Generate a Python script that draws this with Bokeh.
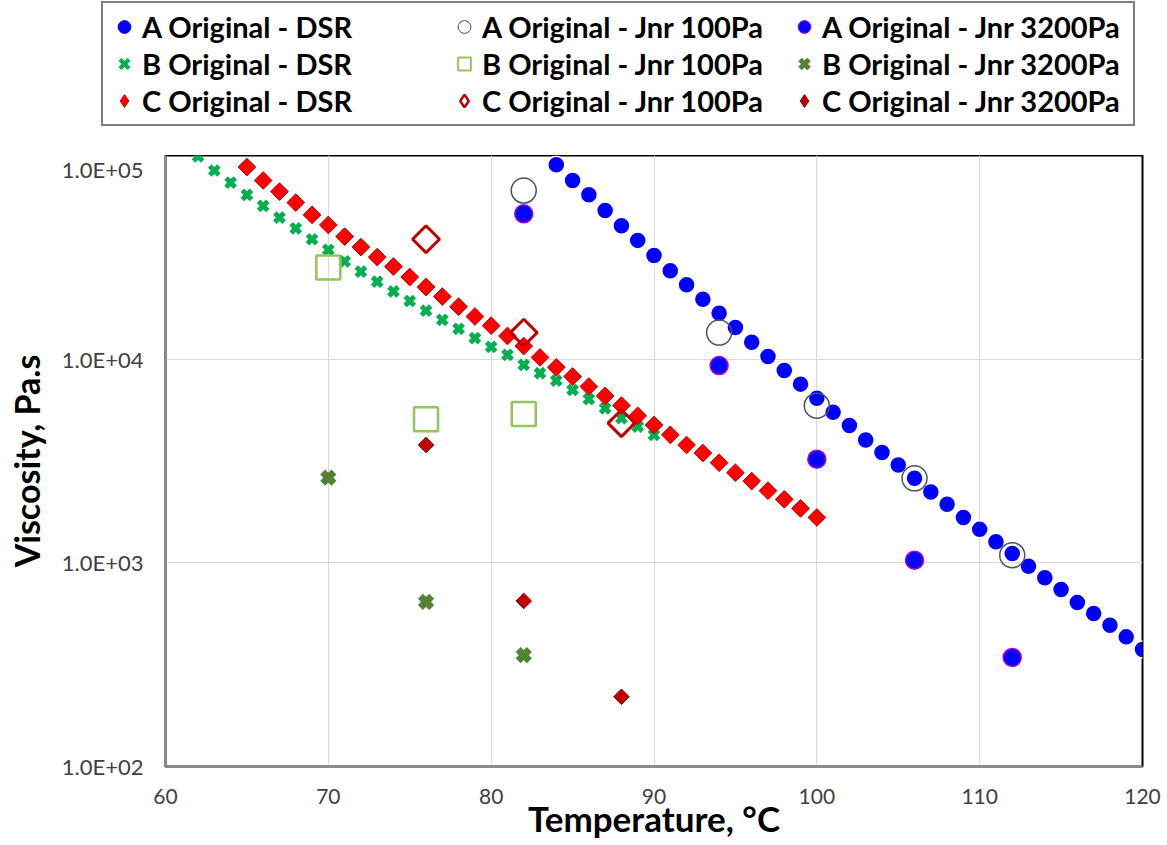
import numpy as np
from bokeh.plotting import figure
from bokeh.layouts import column
from bokeh.models import Legend, LegendItem, FixedTicker
from bokeh.embed import file_html
from bokeh.resources import INLINE

# ---------------- data ----------------
a_dsr_temp = list(range(84, 121))
a_dsr_visc = [90000, 75400, 64100, 53700, 45200, 38300, 32300, 27200, 23200, 19700,
              16800, 14300, 12100, 10300, 8800, 7540, 6430, 5490, 4720, 4010,
              3480, 3020, 2600, 2230, 1940, 1670, 1460, 1270, 1110, 963,
              844, 739, 638, 564, 494, 433, 375]

b_dsr_temp = list(range(62, 91))
b_dsr_visc = [98900, 84400, 73600, 64100, 56600, 49600, 43900, 38800, 34400, 30200,
              26900, 24000, 21500, 19300, 17300, 15600, 14100, 12700, 11500, 10500,
              9380, 8530, 7850, 7060, 6360, 5740, 5130, 4670, 4250]

c_dsr_temp = list(range(65, 101))
c_dsr_visc = [87700, 75400, 66500, 58700, 51100, 45600, 40000, 35500, 31700, 28500,
              25300, 22600, 20300, 18100, 16200, 14600, 13000, 11600, 10200, 9120,
              8220, 7340, 6600, 5920, 5270, 4750, 4250, 3790, 3460, 3100,
              2770, 2520, 2260, 2050, 1850, 1670]

a_jnr_temp = [82, 94, 100, 106, 112]
a_jnr100 = [67300, 13500, 5910, 2600, 1090]
a_jnr3200 = [51700, 9300, 3230, 1030, 343]

b_jnr_temp = [70, 76, 82]
b_jnr100 = [28200, 5070, 5380]
b_jnr3200 = [2620, 643, 352]

c_jnr_temp = [76, 82, 88]
c_jnr100 = [38800, 13500, 4850]
c_jnr3200 = [3790, 650, 220]

x_ticks = [60, 70, 80, 90, 100, 110, 120]
y_ticks = [100, 1000, 10000, 100000]
y_tick_labels = ["1.0E+02", "1.0E+03", "1.0E+04", "1.0E+05"]

series_names = ["A Original - DSR", "A Original - Jnr 100Pa", "A Original - Jnr 3200Pa",
                "B Original - DSR", "B Original - Jnr 100Pa", "B Original - Jnr 3200Pa",
                "C Original - DSR", "C Original - Jnr 100Pa", "C Original - Jnr 3200Pa"]

series_temps = [a_dsr_temp, a_jnr_temp, a_jnr_temp,
                b_dsr_temp, b_jnr_temp, b_jnr_temp,
                c_dsr_temp, c_jnr_temp, c_jnr_temp]
series_vals = [a_dsr_visc, a_jnr100, a_jnr3200,
               b_dsr_visc, b_jnr100, b_jnr3200,
               c_dsr_visc, c_jnr100, c_jnr3200]

D = np.pi / 4
styles = [
    dict(marker="circle", size=17, fill_color="#0000FF", line_color="white", line_width=1.5),
    dict(marker="circle", size=25, fill_color=None, line_color="#44546A", line_width=1.5),
    dict(marker="circle", size=18, fill_color="#0000FF", line_color="#B000D0", line_width=1.5),
    dict(marker="x", size=13, line_color="#00B050", line_width=5),
    dict(marker="square", size=24, fill_color=None, line_color="#92C55A", line_width=2.5),
    dict(marker="x", size=16, line_color="#548235", line_width=7),
    dict(marker="square", angle=D, size=12.5, fill_color="#FF0000", line_color="#C00000", line_width=1),
    dict(marker="square", angle=D, size=19, fill_color=None, line_color="#C00000", line_width=3),
    dict(marker="square", angle=D, size=11, fill_color="#C00000", line_color="#800000", line_width=1),
]
legend_styles = [
    dict(marker="circle", fill_color="#0000FF", line_color="#0000FF", line_width=1),
    dict(marker="circle", fill_color=None, line_color="#44546A", line_width=1),
    dict(marker="circle", fill_color="#0000FF", line_color="#B000D0", line_width=1),
    dict(marker="x", line_color="#00B050", line_width=4),
    dict(marker="square", fill_color=None, line_color="#92C55A", line_width=2),
    dict(marker="x", line_color="#548235", line_width=5),
    dict(marker="diamond", fill_color="#FF0000", line_color="#C00000", line_width=1),
    dict(marker="diamond", fill_color=None, line_color="#C00000", line_width=2.5),
    dict(marker="diamond", fill_color="#C00000", line_color="#800000", line_width=1),
]

# ---------------- main plot ----------------
p = figure(width=1167, height=690, y_axis_type="log",
           x_range=(60, 120), y_range=(100, 100000),
           output_backend="svg", toolbar_location=None,
           min_border_left=165, min_border_right=25,
           min_border_top=0, min_border_bottom=79)
p.frame_align = False

p.background_fill_color = "white"
p.border_fill_color = "white"
p.outline_line_color = "black"
p.outline_line_width = 2

p.xgrid.grid_line_color = "#D9D9D9"
p.ygrid.grid_line_color = "#D9D9D9"
p.ygrid.minor_grid_line_color = None

p.xaxis.ticker = FixedTicker(ticks=x_ticks)
p.yaxis.ticker = FixedTicker(ticks=y_ticks)
p.yaxis.major_label_overrides = {t: l for t, l in zip(y_ticks, y_tick_labels)}

for ax in (p.xaxis[0], p.yaxis[0]):
    ax.axis_line_color = "#8C8C8C"
    ax.axis_line_width = 2.5
    ax.major_tick_line_color = None
    ax.minor_tick_line_color = None
    ax.major_tick_in = 0
    ax.major_tick_out = 0
    ax.minor_tick_in = 0
    ax.minor_tick_out = 0
    ax.major_label_text_font = "Lato"
    ax.major_label_text_color = "#404040"
    ax.axis_label_text_font = "Lato"
    ax.axis_label_text_font_style = "bold"
    ax.axis_label_text_color = "black"

p.xaxis.major_label_text_font_size = "21px"
p.yaxis.major_label_text_font_size = "22px"
p.xaxis.axis_label_text_font_size = "35px"
p.yaxis.axis_label_text_font_size = "34px"
p.xaxis.axis_label = "Temperature, °C"
p.yaxis.axis_label = "Viscosity, Pa.s"
p.xaxis.major_label_standoff = 22
p.yaxis.major_label_standoff = 22
p.xaxis.axis_label_standoff = -10
p.yaxis.axis_label_standoff = 12

for t, v, st in zip(series_temps, series_vals, styles):
    p.scatter(t, v, **st)

# ---------------- legend strip ----------------
lf = figure(width=1167, height=155, x_range=(0, 1), y_range=(0, 1),
            output_backend="svg", toolbar_location=None,
            x_axis_location=None, y_axis_location=None,
            min_border=0)
lf.frame_align = False
lf.grid.visible = False
lf.outline_line_color = None
lf.background_fill_color = "white"
lf.border_fill_color = "white"

items = []
for name, t, v, st in zip(series_names, series_temps, series_vals, legend_styles):
    # first point of each series (outside this strip's ranges, so only the legend glyph shows)
    r = lf.scatter(t[:1], v[:1], **st)
    items.append(LegendItem(label=name, renderers=[r]))

legend = Legend(items=items, ncols=3, orientation="horizontal",
                location=(101, 29),
                label_text_font="Lato", label_text_font_style="bold",
                label_text_font_size="29px", label_text_color="black",
                label_width=306, label_height=37,
                glyph_width=32, glyph_height=37, label_standoff=2,
                spacing=0, padding=5, margin=0,
                border_line_color="black", border_line_width=2,
                background_fill_color="white", background_fill_alpha=1)
lf.add_layout(legend, "center")

layout = column(lf, p, spacing=0)
open("out.html", "w").write(file_html(layout, INLINE))
